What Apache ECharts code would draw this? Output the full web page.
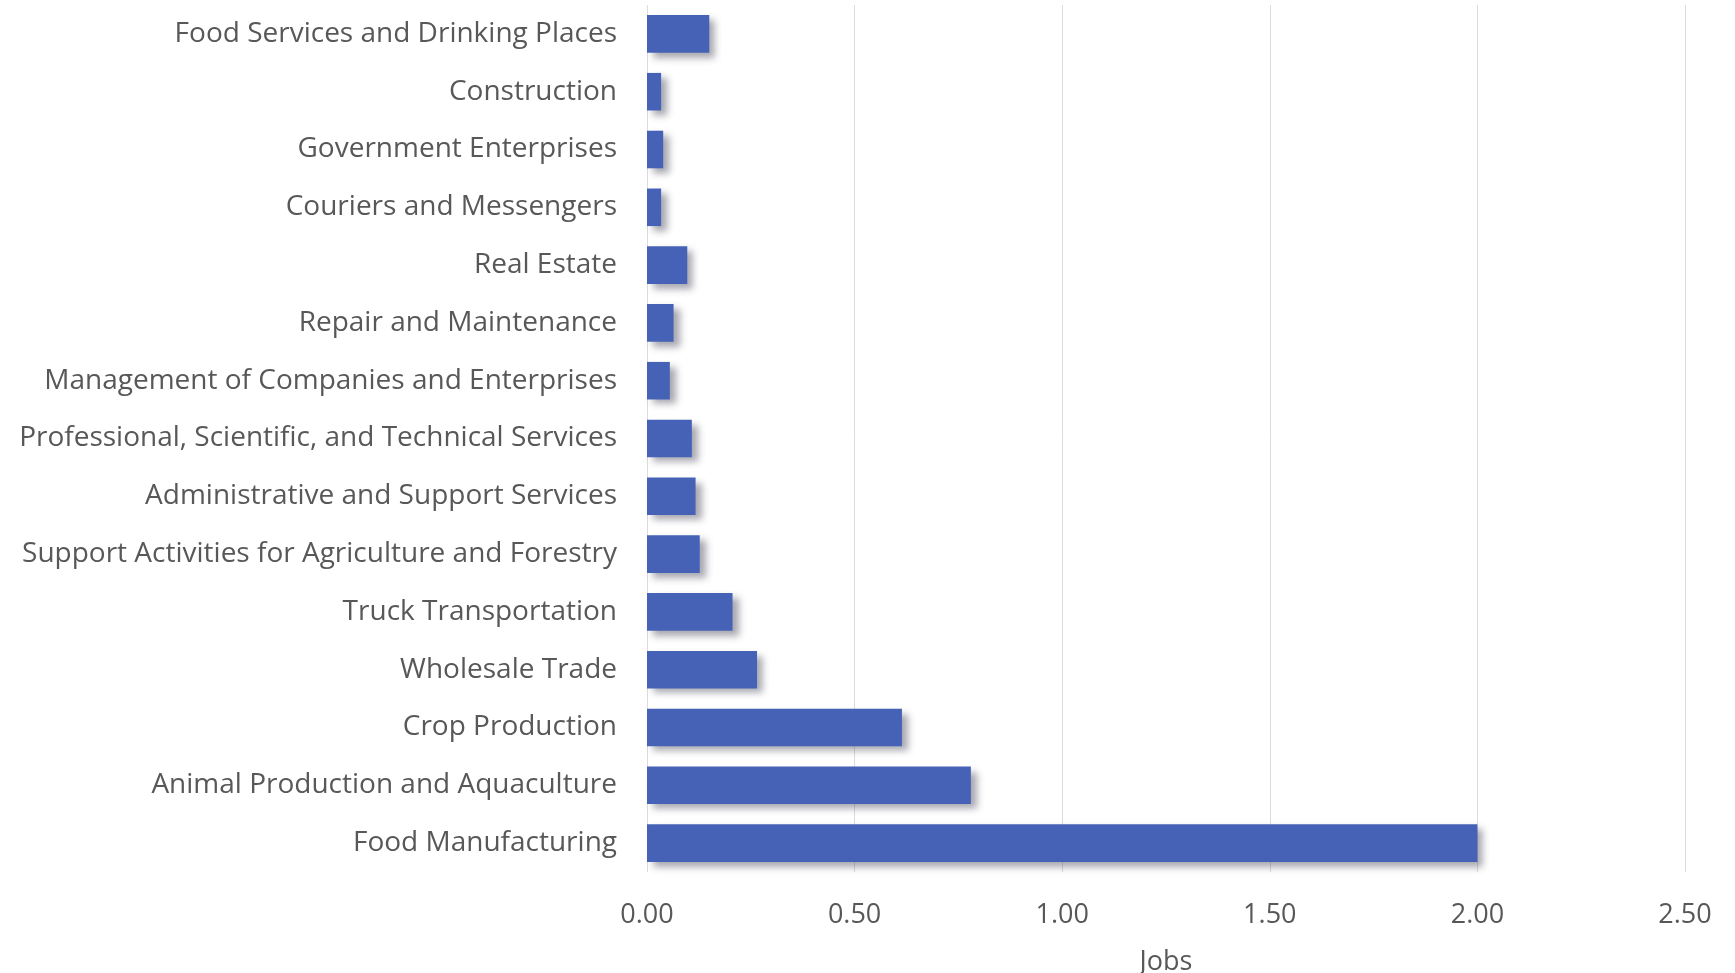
<!DOCTYPE html>
<html>
<head>
<meta charset="utf-8">
<script src="https://cdn.jsdelivr.net/npm/echarts@6/dist/echarts.min.js"></script>
<style>
  html, body { margin: 0; padding: 0; background: #fff; }
  #main { width: 1735px; height: 973px; }
</style>
</head>
<body>
<div id="main"></div>
<script>
  // industries, top to bottom as in the picture
  var industries = [
    'Food Services and Drinking Places',
    'Construction',
    'Government Enterprises',
    'Couriers and Messengers',
    'Real Estate',
    'Repair and Maintenance',
    'Management of Companies and Enterprises',
    'Professional, Scientific, and Technical Services',
    'Administrative and Support Services',
    'Support Activities for Agriculture and Forestry',
    'Truck Transportation',
    'Wholesale Trade',
    'Crop Production',
    'Animal Production and Aquaculture',
    'Food Manufacturing'
  ]
  var jobs = [0.15, 0.034, 0.039, 0.034, 0.097, 0.064, 0.055, 0.108, 0.117, 0.127, 0.206, 0.265, 0.614, 0.78, 2.0]
  var xTicks = { min: 0, max: 2.5, step: 0.5 }

  var myChart = echarts.init(document.getElementById('main'))

  var textColor = '#585858'
  var font = 'Open Sans'
  var option = {
    animation: false,
    grid: {
      left: 647,
      right: 50,
      top: 5,
      bottom: 101,
      outerBoundsMode: 'none',
    },
    xAxis: {
      type: 'value',
      min: xTicks.min,
      max: xTicks.max,
      interval: xTicks.step,
      name: 'Jobs',
      nameLocation: 'middle',
      nameGap: 77,
      nameTextStyle: { color: textColor, fontSize: 27, fontFamily: font },
      axisLine: { show: false },
      axisTick: { show: false },
      axisLabel: {
        color: textColor,
        fontSize: 27,
        fontFamily: font,
        margin: 30,
        formatter: function (v) { return v.toFixed(2) },
      },
      splitLine: { lineStyle: { color: '#dcdcdc', width: 1 } },
    },
    yAxis: {
      type: 'category',
      inverse: true,
      data: industries,
      axisLine: { show: false },
      axisTick: { show: false },
      axisLabel: {
        color: textColor,
        fontSize: 28,
        fontFamily: font,
        margin: 30,
      },
    },
    series: [
      {
        type: 'bar',
        data: jobs,
        barWidth: '65%',
        itemStyle: {
          color: '#4662b6',
          shadowColor: 'rgba(60,60,80,0.45)',
          shadowBlur: 7,
          shadowOffsetX: 6,
          shadowOffsetY: 5,
        },
      },
    ],
  }

  myChart.setOption(option)
</script>
</body>
</html>
